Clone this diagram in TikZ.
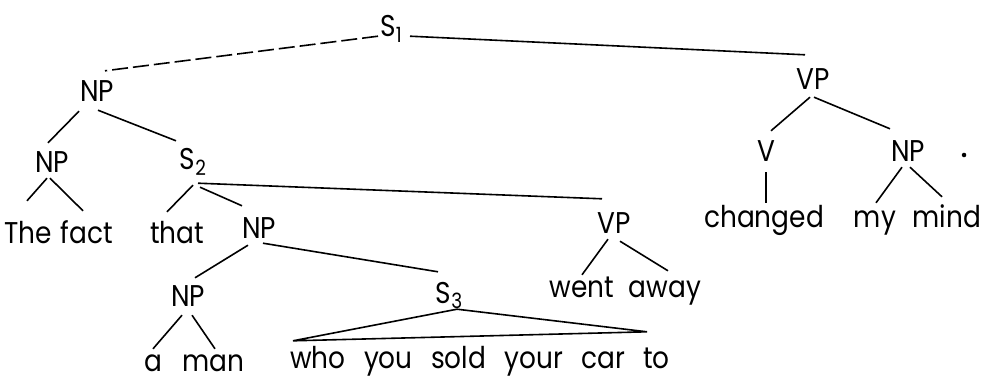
\documentclass[tikz,border=0pt]{standalone}
\usepackage{fontspec}
\setmainfont{Poppins}[FakeStretch=0.88, WordSpace=2.6]
\usetikzlibrary{positioning}
\newcommand{\subs}[1]{\raisebox{-0.35ex}{\fontsize{21}{21}\selectfont #1}}
\tikzset{
  cat/.style={anchor=base, inner sep=3pt, text height=21pt, text depth=0pt,
    font=\fontsize{30}{32}\selectfont},
  word/.style={anchor=base, inner sep=3pt, text height=22pt, text depth=6pt,
    font=\fontsize{30}{32}\selectfont},
  branch/.style={line width=1.6pt},
}

\begin{document}
\begin{tikzpicture}[x=1pt, y=-1pt]
  \useasboundingbox (0,0) rectangle (992,382);

  % categories
  \node[cat] (s1)  at (391,37)  {S\subs{1}};
  \node[cat] (np1) at (97,102)  {NP};
  \node[cat] (vp1) at (813,90)  {VP};
  \node[cat] (np2) at (52,172)  {NP};
  \node[cat] (s2)  at (193,170) {S\subs{2}};
  \node[cat] (v)   at (766,162) {V};
  \node[cat] (np5) at (908,162) {NP};
  \node[cat] (np3) at (259,238) {NP};
  \node[cat] (vp2) at (614,233) {VP};
  \node[cat] (np4) at (188,306) {NP};
  \node[cat] (s3)  at (449,303) {S\subs{3}};
  \node[circle, fill, inner sep=1.6pt] (stop) at (964,155) {};

  % words
  \node[word] (the)  at (28,243)  {The};
  \node[word] (fact) at (87,243)  {fact};
  \node[word] (that) at (177,243) {that};
  \node[word] (changed) at (764,227) {changed};
  \node[word] (my)   at (875,227) {my};
  \node[word] (mind) at (947,227) {mind};
  \node[word] (went) at (582,297) {went};
  \node[word] (away) at (665,297) {away};
  \node[word, text depth=0pt, inner ysep=2pt] (a)   at (153,371) {a};
  \node[word, text depth=0pt, inner ysep=2pt] (man) at (213,371) {man};
  \node[word] (who)  at (480,368) {who you sold your car to};

  % branches
  \draw[branch, dash pattern=on 16pt off 5pt]
    ([shift={(-13,-4)}]s1.south) -- ([shift={(8,-7)}]np1.north);
  \draw[branch] ([shift={(19,-4)}]s1.south) -- ([shift={(-8,-11)}]vp1.north);
  \draw[branch] ([shift={(-18,6)}]np1.south) -- ([shift={(-4,-5)}]np2.north);
  \draw[branch] ([shift={(1,5)}]np1.south) -- ([shift={(-17,-5)}]s2.north);
  \draw[branch] ([shift={(-5,3)}]np2.south) -- ([shift={(-1,-17)}]the.north);
  \draw[branch] ([shift={(-2,3)}]np2.south) -- ([shift={(-4,-7)}]fact.north);
  \draw[branch] ([shift={(0,12)}]s2.south) -- ([shift={(-10,-6)}]that.north);
  \draw[branch] ([shift={(7,14)}]s2.south) -- ([shift={(-17,-8)}]np3.north);
  \draw[branch] ([shift={(5,10)}]s2.south) -- ([shift={(-12,-10)}]vp2.north);
  \draw[branch] ([shift={(-11,4)}]np3.south) -- ([shift={(7,-4)}]np4.north);
  \draw[branch] ([shift={(4,2)}]np3.south) -- ([shift={(-11,-7)}]s3.north);
  \draw[branch] ([shift={(-6,6)}]np4.south) -- ([shift={(0,2)}]a.north);
  \draw[branch] ([shift={(4,6)}]np4.south) -- ([shift={(2,2)}]man.north);
  \draw[branch] ([shift={(-187,-2)}]who.north) -- ([shift={(8,3)}]s3.south)
    -- ([shift={(167,-11)}]who.north) -- cycle;
  \draw[branch] ([shift={(-6,3)}]vp2.south) -- ([shift={(0,3)}]went.north);
  \draw[branch] ([shift={(6,5)}]vp2.south) -- ([shift={(3,-1)}]away.north);
  \draw[branch] ([shift={(-3,4)}]vp1.south) -- ([shift={(5,-7)}]v.north);
  \draw[branch] ([shift={(1,4)}]vp1.south) -- ([shift={(-18,-9)}]np5.north);
  \draw[branch] ([shift={(0,7)}]v.south) -- ([shift={(2,1)}]changed.north);
  \draw[branch] ([shift={(-6,2)}]np5.south) -- ([shift={(1,1)}]my.north);
  \draw[branch] ([shift={(2,2)}]np5.south) -- ([shift={(-5,-5)}]mind.north);
\end{tikzpicture}
\end{document}
